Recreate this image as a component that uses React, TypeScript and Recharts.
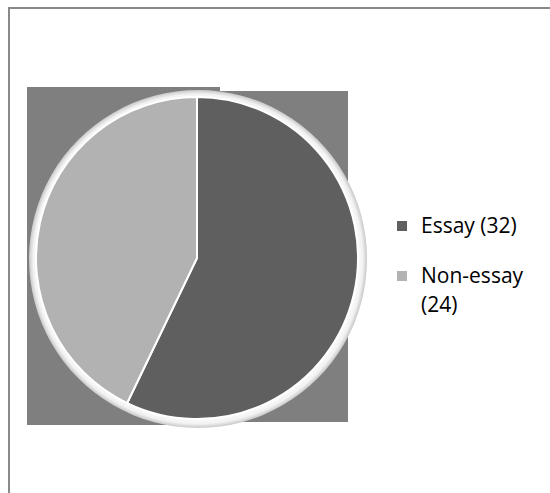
import React from "react";
import { PieChart, Pie, Cell } from "recharts";

// Submission types and counts
const categories = ["Essay", "Non-essay"];
const counts = [32, 24];
const sliceColors = ["#5f5f5f", "#b2b2b2"];

const data = categories.map((name, i) => ({ name, value: counts[i] }));
const ringData = [{ name: "ring", value: 1 }];

const FONT = "'Open Sans', 'Noto Sans', sans-serif";

const LegendBox = () => (
  <div style={{ fontFamily: FONT, fontSize: 21, color: "#000", lineHeight: "29px" }}>
    {data.map((d, i) => (
      <div key={d.name} style={{ display: "flex", alignItems: "flex-start", marginBottom: i === 0 ? 21 : 0 }}>
        <div
          style={{
            width: 10,
            height: 10,
            background: sliceColors[i],
            marginTop: 10,
            marginRight: 14,
            flex: "none",
          }}
        />
        <div style={{ width: 124 }}>
          {d.name} ({d.value})
        </div>
      </div>
    ))}
  </div>
);

export default function App() {
  return (
    <div
      style={{
        position: "absolute",
        left: 0,
        top: 0,
        width: 550,
        height: 493,
        overflow: "hidden",
        background: "#fff",
      }}
    >
      {/* outer chart frame */}
      <div
        style={{
          position: "absolute",
          left: 8,
          top: 7,
          width: 600,
          height: 600,
          borderLeft: "2px solid #898989",
          borderTop: "2px solid #898989",
        }}
      />
      {/* plot area */}
      <div style={{ position: "absolute", left: 27, top: 87, width: 193, height: 338, background: "#7f7f7f" }} />
      <div style={{ position: "absolute", left: 220, top: 91, width: 128, height: 331, background: "#7f7f7f" }} />
      <div style={{ position: "absolute", left: 0, top: 0 }}>
        <PieChart width={550} height={493} margin={{ top: 0, right: 0, bottom: 0, left: 0 }}>
          <defs>
            <radialGradient id="ringShade" cx="0.5" cy="0.5" r="0.5" gradientUnits="objectBoundingBox">
              <stop offset="0.93" stopColor="#ffffff" />
              <stop offset="0.975" stopColor="#f2f2f2" />
              <stop offset="1" stopColor="#c8c8c8" />
            </radialGradient>
          </defs>
          <Pie
            data={ringData}
            dataKey="value"
            cx={198}
            cy={259}
            innerRadius={0}
            outerRadius={169}
            startAngle={90}
            endAngle={-270}
            stroke="none"
            fill="url(#ringShade)"
            legendType="none"
            isAnimationActive={false}
          />
          <Pie
            data={data}
            dataKey="value"
            nameKey="name"
            cx={197}
            cy={258}
            outerRadius={161}
            startAngle={90}
            endAngle={-270}
            stroke="#ffffff"
            strokeWidth={2}
            isAnimationActive={false}
          >
            {data.map((d, i) => (
              <Cell key={d.name} fill={sliceColors[i]} />
            ))}
          </Pie>
        </PieChart>
      </div>
      <div style={{ position: "absolute", left: 397, top: 211 }}>
        <LegendBox />
      </div>
    </div>
  );
}
